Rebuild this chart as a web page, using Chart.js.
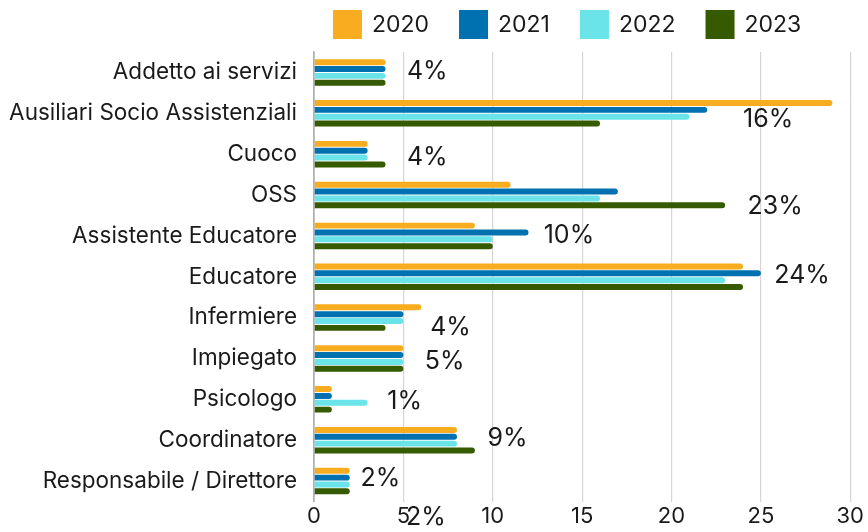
<!DOCTYPE html>
<html><head><meta charset="utf-8">
<script src="https://cdn.jsdelivr.net/npm/chart.js@4"></script>
<style>html,body{margin:0;padding:0;background:#fff}#wrap{width:868px;height:532px}</style>
</head><body><div id="wrap"><canvas id="c" width="868" height="532"></canvas></div>
<script>
const categories = ['Addetto ai servizi','Ausiliari Socio Assistenziali','Cuoco','OSS','Assistente Educatore','Educatore','Infermiere','Impiegato','Psicologo','Coordinatore','Responsabile / Direttore'];
const years = ['2020','2021','2022','2023'];
const values2020 = [4,29,3,11,9,24,6,5,1,8,2];
const values2021 = [4,22,3,17,12,25,5,5,1,8,2];
const values2022 = [4,21,3,16,10,23,5,5,3,8,2];
const values2023 = [4,16,4,23,10,24,4,5,1,9,2];
const xTicks = [0,5,10,15,20,25,30];
const shareLabels = ['4%','16%','4%','23%','10%','24%','4%','5%','1%','9%','2%','2%'];
const shareLabelX = [5.2,24.0,5.2,24.25,12.85,25.75,6.5,6.2,4.1,9.7,2.6,5.15];
const shareLabelDy = [-0.015,0.14,0.07,0.27,-0.01,-0.03,0.25,0.08,0.05,-0.03,-0.06,-0.12];

const colors = ['#F8AC1F','#0071B0','#6AE4E9','#355A00'];
const FONT = 'Inter';
const seriesValues = [values2020, values2021, values2022, values2023];

const topLegend = {
  id: 'topLegend',
  afterDraw(chart) {
    const ctx = chart.ctx;
    ctx.save();
    ctx.font = '23px ' + FONT;
    const box = 29, gap = 10, pad = 30;
    const items = chart.data.datasets.map(d => ({label: d.label, color: d.backgroundColor, w: ctx.measureText(d.label).width}));
    const total = items.reduce((s, it) => s + box + gap + it.w + pad, 0);
    let x = (chart.chartArea.left + chart.chartArea.right) / 2 - total / 2;
    ctx.textBaseline = 'middle';
    ctx.textAlign = 'left';
    items.forEach(it => {
      ctx.fillStyle = it.color;
      ctx.fillRect(x, 10, box, box);
      ctx.fillStyle = '#1a1a1a';
      ctx.fillText(it.label, x + box + gap, 25);
      x += box + gap + it.w + pad;
    });
    ctx.restore();
  }
};

const shareLabelPlugin = {
  id: 'shareLabels',
  afterDraw(chart) {
    const ctx = chart.ctx;
    const xs = chart.scales.x, ys = chart.scales.y;
    ctx.save();
    ctx.font = '25px ' + FONT;
    ctx.fillStyle = '#1a1a1a';
    ctx.textAlign = 'left';
    ctx.textBaseline = 'middle';
    shareLabels.forEach((t, i) => {
      ctx.fillText(t, xs.getPixelForValue(shareLabelX[i]), ys.getPixelForValue(i + shareLabelDy[i]));
    });
    ctx.restore();
  }
};

new Chart(document.getElementById('c'), {
  type: 'bar',
  data: {
    labels: categories,
    datasets: years.map((y, i) => ({
      label: y,
      data: seriesValues[i],
      backgroundColor: colors[i],
      borderRadius: 3,
      borderSkipped: 'start',
      categoryPercentage: 0.67,
      barPercentage: 0.87
    }))
  },
  options: {
    indexAxis: 'y',
    responsive: false,
    animation: false,
    devicePixelRatio: 1,
    layout: {padding: {top: 52, right: 17, left: 0, bottom: 0}},
    plugins: {legend: {display: false}, tooltip: {enabled: false}},
    scales: {
      x: {
        min: 0, max: 30,
        afterBuildTicks: s => { s.ticks = xTicks.map(v => ({value: v})); },
        afterFit: s => { s.height = 27; },
        ticks: {font: {family: FONT, size: 22, lineHeight: 1}, color: '#1a1a1a', padding: 4, maxRotation: 0},
        grid: {color: c => (c.tick && c.tick.value === 0) ? '#b0b0b0' : '#d6d6d6', lineWidth: c => (c.tick && c.tick.value === 0) ? 1.5 : 1.2, drawTicks: false},
        border: {display: false}
      },
      y: {
        afterFit: s => { s.width = 314; },
        ticks: {font: {family: FONT, size: 22.5}, color: '#1a1a1a', padding: 17},
        grid: {display: false, drawTicks: false},
        border: {display: true, color: '#b0b0b0', width: 1.5}
      }
    }
  },
  plugins: [topLegend, shareLabelPlugin]
});
</script></body></html>
